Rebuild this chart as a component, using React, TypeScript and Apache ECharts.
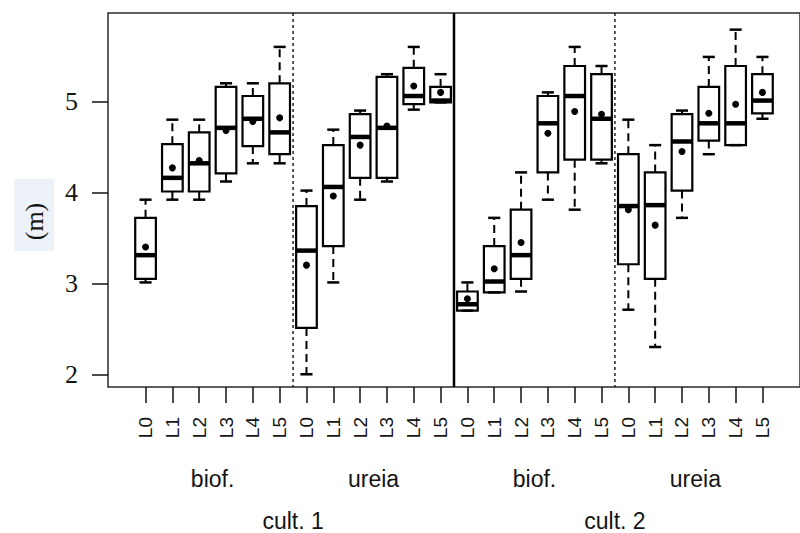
import { useEffect, useRef } from 'react';
import * as echarts from 'echarts';

const levels = ['L0', 'L1', 'L2', 'L3', 'L4', 'L5'];
const treatments = ['biof.', 'ureia'];
const cultivars = ['cult. 1', 'cult. 2'];

// five-number summaries (lower whisker, Q1, median, Q3, upper whisker) and means, 24 boxes
const whiskerLow = [3.01, 3.92, 3.92, 4.12, 4.32, 4.32, 2.0, 3.01, 3.92, 4.12, 4.91, 4.99, 2.7, 2.9, 2.91, 3.92, 3.81, 4.32, 2.71, 2.3, 3.72, 4.42, 4.52, 4.81];
const quartile1 = [3.05, 4.01, 4.01, 4.21, 4.51, 4.42, 2.51, 3.41, 4.16, 4.16, 4.97, 4.99, 2.7, 2.9, 3.05, 4.22, 4.36, 4.36, 3.21, 3.05, 4.02, 4.57, 4.52, 4.87];
const medians = [3.31, 4.16, 4.32, 4.71, 4.81, 4.66, 3.36, 4.06, 4.61, 4.71, 5.06, 5.01, 2.77, 3.02, 3.31, 4.76, 5.06, 4.81, 3.85, 3.86, 4.56, 4.76, 4.76, 5.01];
const quartile3 = [3.72, 4.53, 4.66, 5.16, 5.06, 5.2, 3.85, 4.52, 4.86, 5.27, 5.37, 5.16, 2.91, 3.41, 3.81, 5.06, 5.39, 5.3, 4.42, 4.22, 4.86, 5.16, 5.39, 5.3];
const whiskerHigh = [3.92, 4.8, 4.8, 5.2, 5.2, 5.6, 4.02, 4.69, 4.9, 5.3, 5.6, 5.3, 3.01, 3.72, 4.22, 5.1, 5.6, 5.39, 4.8, 4.52, 4.9, 5.49, 5.79, 5.49];
const means = [3.4, 4.27, 4.35, 4.68, 4.78, 4.82, 3.2, 3.96, 4.52, 4.73, 5.17, 5.1, 2.83, 3.16, 3.45, 4.65, 4.89, 4.86, 3.81, 3.64, 4.45, 4.87, 4.97, 5.1];

const yTicks = [2, 3, 4, 5];
const separatorPositions = [5.5, 11.5, 17.5];
const separatorSolid = [false, true, false];

export default function App() {
  const ref = useRef<HTMLDivElement>(null);
  useEffect(() => {
    if (!ref.current) return;
    const chart = echarts.init(ref.current, null, { renderer: 'svg' });

    const nLev = levels.length;
    const nTr = treatments.length;
    const catLabels: string[] = [];
    cultivars.forEach(() => treatments.forEach(() => levels.forEach((l) => catLabels.push(l))));
    const catIdx = catLabels.map((_, i) => i);
    const trPos: number[] = [];
    const trLab: string[] = [];
    cultivars.forEach((_, c) =>
      treatments.forEach((t, k) => {
        trPos.push((c * nTr + k) * nLev + (nLev - 1) / 2);
        trLab.push(t);
      })
    );
    const cuPos = cultivars.map((_, c) => c * nTr * nLev + (nTr * nLev - 1) / 2);

    const boxData = catIdx.map((i) => [i, whiskerLow[i], quartile1[i], medians[i], quartile3[i], whiskerHigh[i], means[i]]);

    const xMin = -1.4;
    const xMax = catIdx.length - 1 + 1.4;
    const textColor = '#141414';

    const baseX = {
      type: 'value',
      min: xMin,
      max: xMax,
      position: 'bottom',
      splitLine: { show: false },
      axisLine: { show: false, onZero: false },
    };

    const option: any = {
      animation: false,
      grid: {
        left: 108,
        top: 13,
        width: 702,
        height: 374,
        show: true,
        borderColor: '#2a2a2a',
        borderWidth: 1.5,
        backgroundColor: 'transparent',
      },
      xAxis: [
        {
          ...baseX,
          axisTick: { show: true, length: 16, customValues: catIdx, lineStyle: { color: '#111', width: 1.5 } },
          axisLabel: {
            customValues: catIdx,
            rotate: 90,
            margin: 30,
            fontFamily: 'Liberation Sans',
            fontSize: 19,
            color: textColor,
            formatter: (v: number) => catLabels[Math.round(v)] ?? '',
          },
        },
        {
          ...baseX,
          axisTick: { show: false },
          axisLabel: {
            customValues: trPos,
            margin: 80,
            fontFamily: 'Liberation Sans',
            fontSize: 23,
            color: textColor,
            formatter: (v: number) => trLab[trPos.indexOf(v)] ?? '',
          },
        },
        {
          ...baseX,
          axisTick: { show: false },
          axisLabel: {
            customValues: cuPos,
            margin: 122,
            fontFamily: 'Liberation Sans',
            fontSize: 23,
            color: textColor,
            formatter: (v: number) => cultivars[cuPos.indexOf(v)] ?? '',
          },
        },
      ],
      yAxis: {
        type: 'value',
        min: 1.86,
        max: 5.973,
        position: 'left',
        splitLine: { show: false },
        axisLine: { show: false, onZero: false },
        axisTick: { show: true, length: 16, customValues: yTicks, lineStyle: { color: '#111', width: 1.5 } },
        axisLabel: {
          customValues: yTicks,
          margin: 30,
          fontFamily: 'Liberation Serif',
          fontSize: 26,
          color: textColor,
        },
        name: '{a|(m)}',
        nameLocation: 'middle',
        nameRotate: 90,
        nameGap: 57,
        nameTextStyle: {
          padding: [0, 30, 0, 0],
          rich: {
            a: {
              fontFamily: 'Liberation Serif',
              fontSize: 26,
              lineHeight: 26,
              color: textColor,
              backgroundColor: '#edf2f9',
              padding: [7, 24, 7, 11],
            },
          },
        },
      },
      series: [
        {
          type: 'custom',
          xAxisIndex: 0,
          silent: true,
          encode: { x: 0, y: [1, 2, 3, 4, 5, 6] },
          data: boxData,
          renderItem: (_params: any, api: any) => {
            const x = api.value(0);
            const lo = api.value(1);
            const q1 = api.value(2);
            const md = api.value(3);
            const q3 = api.value(4);
            const hi = api.value(5);
            const mn = api.value(6);
            const band = api.size([1, 0])[0];
            const bw = band * 0.77;
            const cw = band * 0.45;
            const pLo = api.coord([x, lo]);
            const pQ1 = api.coord([x, q1]);
            const pMd = api.coord([x, md]);
            const pQ3 = api.coord([x, q3]);
            const pHi = api.coord([x, hi]);
            const pMn = api.coord([x, mn]);
            const cx = pMd[0];
            const stroke = '#000';
            const children: any[] = [];
            if (pHi[1] < pQ3[1] - 0.5) {
              children.push({
                type: 'line',
                shape: { x1: cx, y1: pQ3[1], x2: cx, y2: pHi[1] },
                style: { stroke, lineWidth: 2, lineDash: [8, 5] },
              });
            }
            if (pLo[1] > pQ1[1] + 0.5) {
              children.push({
                type: 'line',
                shape: { x1: cx, y1: pQ1[1], x2: cx, y2: pLo[1] },
                style: { stroke, lineWidth: 2, lineDash: [8, 5] },
              });
            }
            children.push({
              type: 'line',
              shape: { x1: cx - cw / 2, y1: pHi[1], x2: cx + cw / 2, y2: pHi[1] },
              style: { stroke, lineWidth: 2.5 },
            });
            children.push({
              type: 'line',
              shape: { x1: cx - cw / 2, y1: pLo[1], x2: cx + cw / 2, y2: pLo[1] },
              style: { stroke, lineWidth: 2.5 },
            });
            children.push({
              type: 'rect',
              shape: { x: cx - bw / 2, y: pQ3[1], width: bw, height: pQ1[1] - pQ3[1] },
              style: { fill: 'rgba(0,0,0,0)', stroke, lineWidth: 2.2 },
            });
            children.push({
              type: 'line',
              shape: { x1: cx - bw / 2, y1: pMd[1], x2: cx + bw / 2, y2: pMd[1] },
              style: { stroke, lineWidth: 4.5 },
            });
            children.push({
              type: 'circle',
              shape: { cx: pMn[0], cy: pMn[1], r: 3.5 },
              style: { fill: '#000' },
            });
            return { type: 'group', children };
          },
        },
        {
          type: 'custom',
          xAxisIndex: 0,
          silent: true,
          encode: { x: 0, y: 1 },
          data: separatorPositions.map((p) => [p, 4]),
          renderItem: (params: any, api: any) => {
            const cs = params.coordSys;
            const px = api.coord([api.value(0), 4])[0];
            const solid = separatorSolid[params.dataIndex];
            return {
              type: 'line',
              shape: { x1: px, y1: cs.y, x2: px, y2: cs.y + cs.height },
              style: solid
                ? { stroke: '#000', lineWidth: 2.5 }
                : { stroke: '#000', lineWidth: 1.3, lineDash: [3, 3] },
            };
          },
        },
      ],
    };

    chart.setOption(option);
    return () => chart.dispose();
  }, []);

  return (
    <div
      ref={ref}
      style={{ position: 'fixed', left: 0, top: 0, width: 800, height: 533, background: '#fff' }}
    />
  );
}
